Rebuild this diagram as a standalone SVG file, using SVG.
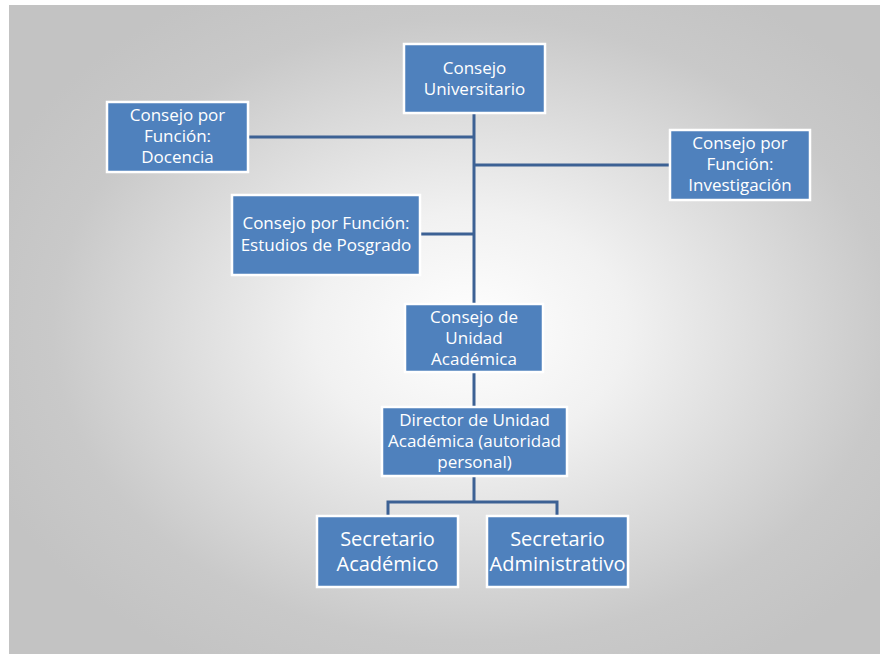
<svg xmlns="http://www.w3.org/2000/svg" width="880" height="654" viewBox="0 0 880 654">
<defs>
<radialGradient id="bg" cx="0.53" cy="0.5" r="0.6" fx="0.53" fy="0.5">
<stop offset="0" stop-color="#ffffff"/>
<stop offset="0.3" stop-color="#f1f1f1"/>
<stop offset="0.8" stop-color="#c9c9c9"/>
<stop offset="1" stop-color="#c3c3c3"/>
</radialGradient>
</defs>
<style>
.box{fill:#4f81bd;stroke:#ffffff;stroke-width:2.5}
.t{fill:#ffffff;font-family:"Open Sans","Liberation Sans",sans-serif;font-size:17px;text-anchor:middle}
.tb{font-size:20px}
.c{stroke:#3c6194;stroke-width:3;fill:none}
</style>
<rect x="0" y="0" width="880" height="654" fill="#ffffff"/>
<rect x="9" y="5" width="871" height="649" fill="url(#bg)"/>
<g id="connectors">
<path class="c" d="M474,113 V304"/>
<path class="c" d="M248,137 H474"/>
<path class="c" d="M474,165 H670"/>
<path class="c" d="M420,234 H474"/>
<path class="c" d="M474,372 V407"/>
<path class="c" d="M474,476 V502 M388,516 V502 H557 V516"/>
</g>
<g id="consejo-universitario">
<rect class="box" x="404" y="44" width="141" height="69"/>
<text class="t" x="474.5" y="74">Consejo</text>
<text class="t" x="474.5" y="95">Universitario</text>
</g>
<g id="docencia">
<rect class="box" x="107" y="102" width="141" height="70"/>
<text class="t" x="177.5" y="121">Consejo por</text>
<text class="t" x="177.5" y="142">Función:</text>
<text class="t" x="177.5" y="163">Docencia</text>
</g>
<g id="investigacion">
<rect class="box" x="670" y="130" width="140" height="70"/>
<text class="t" x="740" y="149">Consejo por</text>
<text class="t" x="740" y="170">Función:</text>
<text class="t" x="740" y="191">Investigación</text>
</g>
<g id="posgrado">
<rect class="box" x="232" y="195" width="188" height="80"/>
<text class="t" x="326" y="229">Consejo por Función:</text>
<text class="t" x="326" y="251">Estudios de Posgrado</text>
</g>
<g id="consejo-unidad">
<rect class="box" x="405" y="304" width="138" height="68"/>
<text class="t" x="474" y="323">Consejo de</text>
<text class="t" x="474" y="344">Unidad</text>
<text class="t" x="474" y="365">Académica</text>
</g>
<g id="director">
<rect class="box" x="382" y="407" width="185" height="69"/>
<text class="t" x="474.5" y="426">Director de Unidad</text>
<text class="t" x="474.5" y="447">Académica (autoridad</text>
<text class="t" x="474.5" y="468">personal)</text>
</g>
<g id="secretario-academico">
<rect class="box" x="317" y="516" width="141" height="71"/>
<text class="t tb" x="387.5" y="546">Secretario</text>
<text class="t tb" x="387.5" y="571">Académico</text>
</g>
<g id="secretario-administrativo">
<rect class="box" x="487" y="516" width="141" height="71"/>
<text class="t tb" x="557.5" y="546">Secretario</text>
<text class="t tb" x="557.5" y="571">Administrativo</text>
</g>
</svg>
